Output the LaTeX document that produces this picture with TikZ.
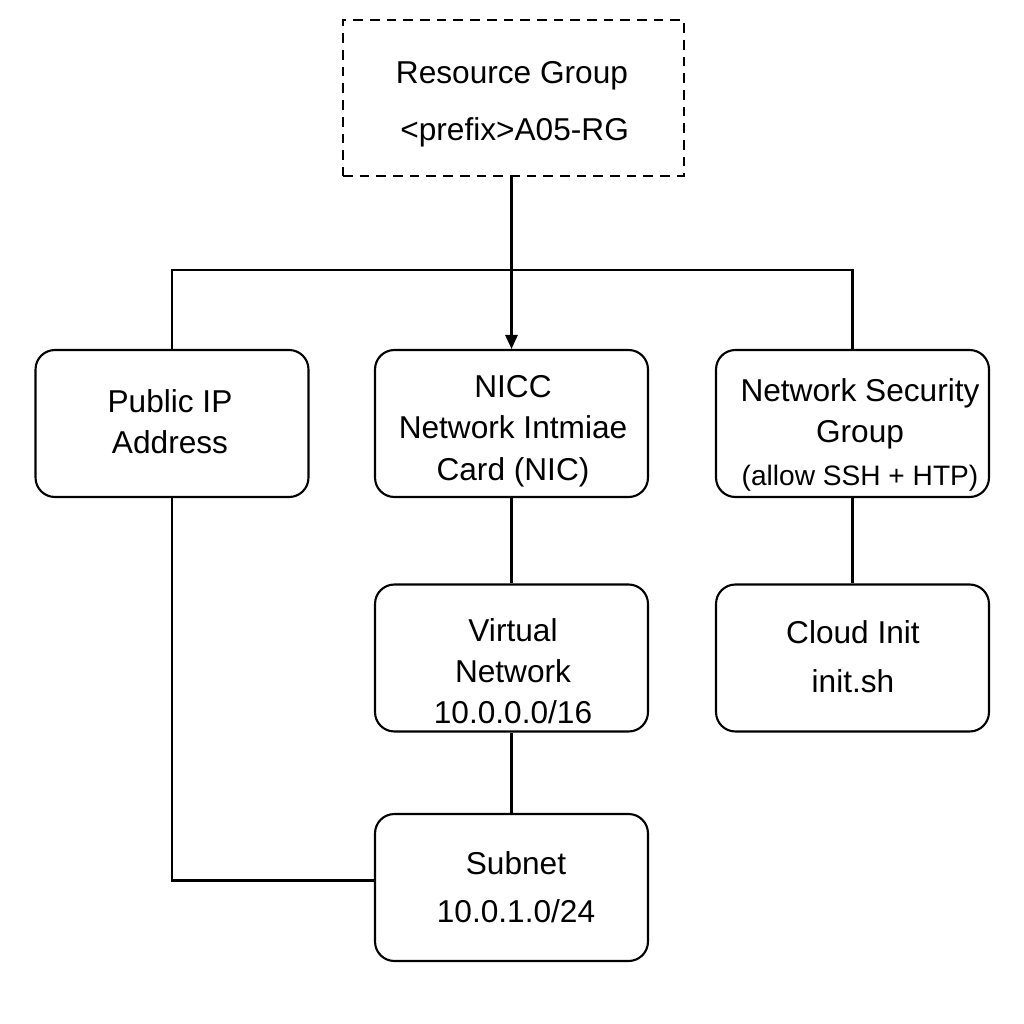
\documentclass[tikz,border=0pt]{standalone}
\usepackage{fontspec}
\setmainfont{Liberation Sans}
\usetikzlibrary{arrows.meta}
\begin{document}
\begin{tikzpicture}[x=0.02cm,y=-0.02cm,
  box/.style={draw, line width=1.2pt, rounded corners=11pt, minimum width=5.46cm, minimum height=2.94cm, inner sep=0pt},
  rgbox/.style={draw, line width=1.2pt, dash pattern=on 5.5pt off 4pt, minimum width=6.82cm, minimum height=3.12cm, inner sep=0pt},
  txt/.style={align=center, inner sep=0pt, font=\fontsize{18}{23.5}\selectfont},
  conn/.style={line width=1.3pt},
  arr/.style={conn, -{Triangle[width=7pt,length=8pt]}}
]
\useasboundingbox (0,0) rectangle (1024,1024);

% boxes
\node[rgbox] (rg) at (513.5,98) {};
\node[txt] (rg-t) at (512,104) {Resource Group\\[9pt] \,\textless prefix\textgreater A05-RG};

\node[box] (pip) at (172,423.5) {};
\node[txt] (pip-t) at (170,422) {Public IP\\Address};

\node[box] (nic) at (511.5,423.5) {};
\node[txt] (nic-t) at (513,431) {NICC\\Network Intmiae\\Card (NIC)};

\node[box] (nsg) at (852.5,423.5) {};
\node[txt] (nsg-t) at (860,435) {Network Security\\Group\\[1pt] {\fontsize{16}{20}\selectfont (allow SSH + HTP)}};

\node[box] (vnet) at (511.5,658) {};
\node[txt] (vnet-t) at (513,671) {Virtual\\Network\\10.0.0.0/16};

\node[box] (ci) at (852.5,658) {};
\node[txt] (ci-t) at (853,657) {Cloud Init\\[4.5pt]init.sh};

\node[box] (subnet) at (511.5,887.5) {};
\node[txt] (subnet-t) at (516,887) {Subnet\\[3.5pt]10.0.1.0/24};

% connectors
\coordinate (bar) at (512,270);
\draw[conn] (pip.north) |- (bar) -| (nsg.north);
\draw[arr] (rg.south -| nic.north) -- (nic.north);
\draw[conn] (nic.south) -- (vnet.north);
\draw[conn] (vnet.south) -- (subnet.north);
\draw[conn] (nsg.south) -- (ci.north);
\draw[conn] (pip.south) |- ([yshift=4pt]subnet.west);
\end{tikzpicture}
\end{document}
